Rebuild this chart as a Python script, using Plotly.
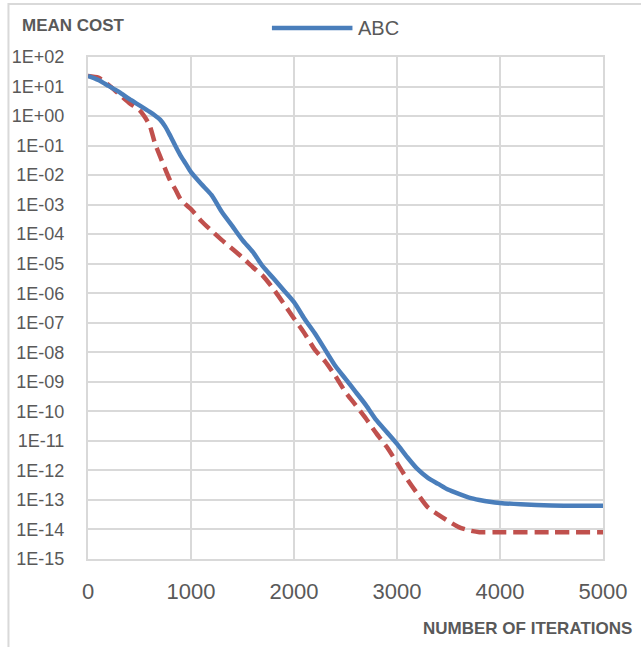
import plotly.graph_objects as go

# ---- data ----
iters_abc = [0, 100, 200, 300, 400, 500, 600, 650, 700, 750, 800, 850, 900, 950, 1000,
             1100, 1200, 1300, 1400, 1500, 1600, 1700, 1800, 1900, 2000, 2100, 2200,
             2300, 2400, 2500, 2600, 2700, 2800, 2900, 3000, 3100, 3200, 3300, 3400,
             3500, 3600, 3700, 3800, 3900, 4000, 4200, 4500, 5000]
cost_abc = [22.9, 16.6, 10.5, 6.6, 3.8, 2.3, 1.38, 1.05, 0.76, 0.44, 0.21, 0.095, 0.045, 0.024,
            0.0126, 5.0e-3, 2.1e-3, 5.6e-4, 1.9e-4, 6.3e-5, 2.5e-5, 7.9e-6, 3.2e-6, 1.26e-6,
            5.0e-7, 1.4e-7, 4.5e-8, 1.26e-8, 3.5e-9, 1.26e-9, 4.5e-10, 1.6e-10, 5.0e-11,
            2.0e-11, 7.9e-12, 2.8e-12, 1.1e-12, 5.6e-13, 3.5e-13, 2.2e-13, 1.6e-13, 1.2e-13,
            1.0e-13, 8.7e-14, 7.9e-14, 7.1e-14, 6.5e-14, 6.3e-14]

iters_other = [0, 100, 200, 300, 400, 500, 550, 600, 650, 700, 750, 800, 850, 900, 950, 1000,
               1100, 1200, 1300, 1400, 1500, 1600, 1700, 1800, 1900, 2000, 2100, 2200, 2300,
               2400, 2500, 2600, 2700, 2800, 2900, 3000, 3100, 3200, 3300, 3400, 3500, 3600,
               3700, 3800, 4000, 4500, 5000]
cost_other = [22.9, 20.0, 11.2, 5.6, 2.8, 1.6, 0.95, 0.47, 0.12, 0.043, 0.016, 6.3e-3, 3.2e-3,
              1.5e-3, 1.0e-3, 7.1e-4, 2.8e-4, 1.3e-4, 6.3e-5, 3.2e-5, 1.6e-5, 7.6e-6, 3.8e-6,
              1.4e-6, 4.5e-7, 1.4e-7, 4.5e-8, 1.26e-8, 5.0e-9, 1.6e-9, 4.5e-10, 1.6e-10,
              5.6e-11, 1.8e-11, 6.3e-12, 1.8e-12, 5.0e-13, 1.6e-13, 5.6e-14, 3.2e-14, 1.9e-14,
              1.2e-14, 9.3e-15, 8.1e-15, 8.1e-15, 8.1e-15, 8.1e-15]

y_tickvals = [10.0 ** e for e in range(2, -16, -1)]
y_ticktext = ["1E+02", "1E+01", "1E+00", "1E-01", "1E-02", "1E-03", "1E-04", "1E-05",
              "1E-06", "1E-07", "1E-08", "1E-09", "1E-10", "1E-11", "1E-12", "1E-13",
              "1E-14", "1E-15"]
x_tickvals = [0, 1000, 2000, 3000, 4000, 5000]

BLUE = "#4a7ebb"
RED = "#c0504d"
GRID = "#d9d9d9"
TXT = "#595959"
FONT = "Liberation Sans, Arial, sans-serif"

fig = go.Figure()
fig.add_trace(go.Scatter(x=iters_other, y=cost_other, mode="lines", name="",
                         line=dict(color=RED, width=4.5, dash="14px,7px", shape="spline", smoothing=0.7),
                         showlegend=False, hoverinfo="skip"))
fig.add_trace(go.Scatter(x=iters_abc, y=cost_abc, mode="lines", name="ABC",
                         line=dict(color=BLUE, width=4.5, shape="spline", smoothing=0.7),
                         showlegend=False, hoverinfo="skip"))

fig.update_layout(
    width=641, height=647,
    margin=dict(l=85, r=38, t=57, b=88),
    paper_bgcolor="white", plot_bgcolor="white",
    font=dict(family=FONT, color=TXT),
    xaxis=dict(range=[0, 5000], tickvals=x_tickvals, showgrid=True, gridcolor=GRID, gridwidth=2,
               zeroline=False, showline=True, linecolor=GRID, linewidth=2, mirror=True,
               tickfont=dict(size=22, color=TXT), ticks="", ticklabelstandoff=12),
    yaxis=dict(type="log", range=[-15, 2], tickvals=y_tickvals, ticktext=y_ticktext,
               showgrid=True, gridcolor=GRID, gridwidth=2, zeroline=False,
               showline=True, linecolor=GRID, linewidth=2, mirror=True,
               tickfont=dict(size=18, color=TXT), ticks="", ticklabelstandoff=18),
    showlegend=False,
)

# outer chart frame
fig.add_shape(type="rect", xref="paper", yref="paper",
              x0=-80 / 518, x1=(645 - 85) / 518, y0=-95 / 502, y1=(559 - 4) / 502,
              line=dict(color=GRID, width=2), layer="below")

# legend (line sample + label)
fig.add_shape(type="line", xref="paper", yref="paper",
              x0=(270 - 85) / 518, x1=(351 - 85) / 518, y0=(559 - 28) / 502, y1=(559 - 28) / 502,
              line=dict(color=BLUE, width=4.5))
fig.add_annotation(text="ABC", xref="paper", yref="paper", x=(355 - 85) / 518, y=(559 - 28) / 502,
                   xanchor="left", yanchor="middle", showarrow=False,
                   font=dict(size=20, color=TXT, family=FONT))

# axis titles
fig.add_annotation(text="<b>MEAN COST</b>", xref="paper", yref="paper", x=(17 - 85) / 518,
                   y=(559 - 25) / 502, xanchor="left", yanchor="middle", showarrow=False,
                   font=dict(size=17, color=TXT, family=FONT))
fig.add_annotation(text="<b>NUMBER OF ITERATIONS</b>", xref="paper", yref="paper",
                   x=(634 - 85) / 518, y=(559 - 629) / 502, xanchor="right", yanchor="middle",
                   showarrow=False, font=dict(size=17, color=TXT, family=FONT))

fig.write_html("out.html", config={"displayModeBar": False},
               post_script="document.body.style.margin='0';document.body.style.overflow='hidden';")
